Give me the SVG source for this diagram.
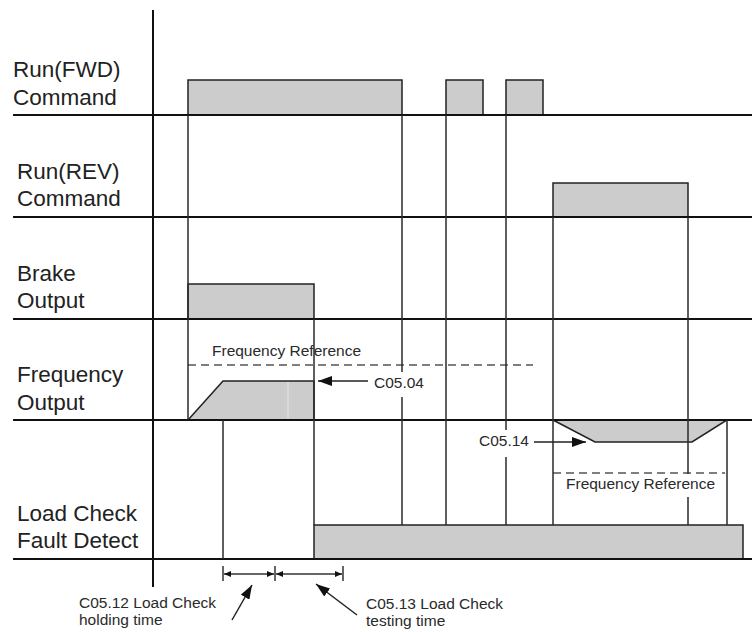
<svg xmlns="http://www.w3.org/2000/svg" width="752" height="632" viewBox="0 0 752 632">
<style>
.bg{fill:#ffffff}
.lbl{font-family:"Liberation Sans",Arial,sans-serif;font-size:22.5px;fill:#222}
.sm{font-family:"Liberation Sans",Arial,sans-serif;font-size:15.5px;fill:#2a2a2a}
.hl{stroke:#111;stroke-width:2;fill:none}
.ax{stroke:#111;stroke-width:2;fill:none}
.vl{stroke:#2a2a2a;stroke-width:1.5;fill:none}
.sig{fill:#cccccc;stroke:#222;stroke-width:1.5;stroke-linejoin:miter}
.dash{stroke:#555;stroke-width:1.5;stroke-dasharray:8,5;fill:none}
.arr{stroke:#222;stroke-width:1.5;fill:none}
.dim{stroke:#333;stroke-width:1.5;fill:none}
</style>
<defs>
<marker id="ah" markerWidth="14" markerHeight="10" refX="14" refY="5" orient="auto" markerUnits="userSpaceOnUse"><path d="M0,0 L14,5 L0,10 z" fill="#111"/></marker>
<marker id="ahs" markerWidth="7" markerHeight="6" refX="7" refY="3" orient="auto-start-reverse" markerUnits="userSpaceOnUse"><path d="M0,0 L7,3 L0,6 z" fill="#111"/></marker>
</defs>
<rect class="bg" x="0" y="0" width="752" height="632"/>

<g id="signals">
<g id="fwd">
<rect class="sig" x="188" y="80" width="214" height="35"/>
<rect class="sig" x="446" y="80" width="37" height="35"/>
<rect class="sig" x="506" y="80" width="37" height="35"/>
</g>
<g id="rev">
<rect class="sig" x="553" y="183" width="135" height="34"/>
</g>
<g id="brake">
<rect class="sig" x="188" y="284" width="126" height="35"/>
</g>
<g id="freq">
<path class="sig" d="M188,420 L223,381 L314,381 L314,420 Z"/>
<line x1="288" y1="382" x2="288" y2="419" stroke="#e6e6e6" stroke-width="1"/>
<path class="sig" d="M553,420 L595,442 L692,442 L727,420 Z"/>
<line class="dash" x1="188" y1="365" x2="533" y2="365"/>
<line class="dash" x1="553" y1="473" x2="725" y2="473"/>
<text class="sm" x="212" y="356">Frequency Reference</text>
<text class="sm" x="566" y="489">Frequency Reference</text>
</g>
<g id="loadcheck">
<rect class="sig" x="314" y="525" width="429" height="34"/>
</g>
</g>

<g id="connectors">
<line class="ax" x1="153" y1="10" x2="153" y2="587"/>
<line class="hl" x1="13" y1="115" x2="752" y2="115"/>
<line class="hl" x1="13" y1="217" x2="752" y2="217"/>
<line class="hl" x1="13" y1="319" x2="752" y2="319"/>
<line class="hl" x1="13" y1="420" x2="752" y2="420"/>
<line class="hl" x1="13" y1="559" x2="752" y2="559"/>
<line class="vl" x1="188" y1="115" x2="188" y2="420"/>
<line class="vl" x1="223" y1="420" x2="223" y2="559"/>
<line class="vl" x1="314" y1="319" x2="314" y2="525"/>
<line class="vl" x1="402" y1="115" x2="402" y2="372"/>
<line class="vl" x1="402" y1="397" x2="402" y2="525"/>
<line class="vl" x1="446" y1="115" x2="446" y2="525"/>
<line class="vl" x1="506" y1="115" x2="506" y2="430"/>
<line class="vl" x1="506" y1="457" x2="506" y2="525"/>
<line class="vl" x1="553" y1="217" x2="553" y2="525"/>
<line class="vl" x1="688" y1="217" x2="688" y2="474"/>
<line class="vl" x1="688" y1="497" x2="688" y2="525"/>
<line class="vl" x1="727" y1="420" x2="727" y2="525"/>

<line class="arr" x1="368" y1="381" x2="318" y2="381" marker-end="url(#ah)"/>
<text class="sm" x="374" y="388">C05.04</text>
<line class="arr" x1="534" y1="442" x2="586" y2="442" marker-end="url(#ah)"/>
<text class="sm" x="479" y="446">C05.14</text>

<line class="dim" x1="223" y1="566" x2="223" y2="581"/>
<line class="dim" x1="275" y1="566" x2="275" y2="581"/>
<line class="dim" x1="343" y1="566" x2="343" y2="581"/>
<line class="dim" x1="224" y1="574" x2="274" y2="574" marker-start="url(#ahs)" marker-end="url(#ahs)"/>
<line class="dim" x1="276" y1="574" x2="342" y2="574" marker-start="url(#ahs)" marker-end="url(#ahs)"/>
<line class="arr" x1="232" y1="620" x2="252" y2="585" marker-end="url(#ah)"/>
<line class="arr" x1="357" y1="615" x2="316" y2="584" marker-end="url(#ah)"/>
</g>

<g id="labels">
<text class="lbl" x="13" y="77">Run(FWD)</text>
<text class="lbl" x="13" y="105">Command</text>
<text class="lbl" x="17" y="179">Run(REV)</text>
<text class="lbl" x="17" y="206">Command</text>
<text class="lbl" x="17" y="281">Brake</text>
<text class="lbl" x="17" y="308">Output</text>
<text class="lbl" x="17" y="382">Frequency</text>
<text class="lbl" x="17" y="410">Output</text>
<text class="lbl" x="17" y="521">Load Check</text>
<text class="lbl" x="17" y="548">Fault Detect</text>
<text class="sm" x="79" y="608">C05.12 Load Check</text>
<text class="sm" x="79" y="625">holding time</text>
<text class="sm" x="366" y="609">C05.13 Load Check</text>
<text class="sm" x="366" y="626">testing time</text>
</g>
</svg>
